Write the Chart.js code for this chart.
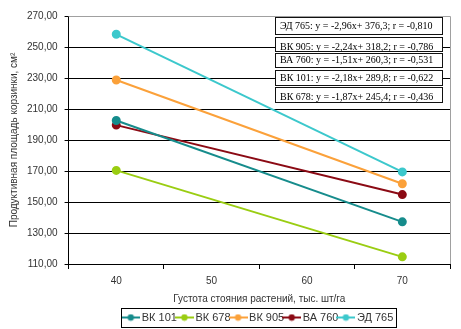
<!DOCTYPE html>
<html lang="ru">
<head>
  <meta charset="UTF-8">
  <title>Продуктивная площадь корзинки</title>
  <script src="https://cdn.jsdelivr.net/npm/chart.js"></script>
  <style>
    body { margin: 0; padding: 0; background: #fff; }
    #wrap { width: 461px; height: 329px; }
  </style>
</head>
<body>
  <div id="wrap"><canvas id="chart"></canvas></div>

  <script>
    // густота стояния, тыс. шт/га (в 50 и 60 точек нет, линия соединяет 40 и 70)
    const categories = ['40', '50', '60', '70'];
    const names = ['ВК 101', 'ВК 678', 'ВК 905', 'ВА 760', 'ЭД 765'];
    const bk101 = [202.6, null, null, 137.2];
    const bk678 = [170.4, null, null, 114.6];
    const bk905 = [228.7, null, null, 161.8];
    const ba760 = [199.6, null, null, 154.8];
    const ed765 = [258.2, null, null, 169.4];
    const colors = ['#168c8c', '#9acd12', '#fba13a', '#8b0a14', '#3cc8cc'];
    const equations = [
      'ЭД 765: y = -2,96x+ 376,3; r = -0,810',
      'ВК 905: y = -2,24x+ 318,2; r = -0,786',
      'ВА 760: y = -1,51x+ 260,3; r = -0,531',
      'ВК 101: y = -2,18x+ 289,8; r = -0,622',
      'ВК 678: y = -1,87x+ 245,4; r = -0,436'
    ];
    const yTicks = { min: 110, max: 270, step: 20 };

    const series = [bk101, bk678, bk905, ba760, ed765];

    // значок легенды: линия с маркером
    function legendIcon(color) {
      const c = document.createElement('canvas');
      c.width = 19; c.height = 8;
      const g = c.getContext('2d');
      g.strokeStyle = color; g.lineWidth = 2;
      g.beginPath(); g.moveTo(0, 4); g.lineTo(19, 4); g.stroke();
      g.fillStyle = color;
      g.beginPath(); g.arc(9.5, 4, 3.2, 0, Math.PI * 2); g.fill();
      return c;
    }

    const datasets = series.map((data, i) => ({
      label: names[i],
      data: data,
      borderColor: colors[i],
      backgroundColor: colors[i],
      borderWidth: 2,
      pointRadius: 3.5,
      pointHoverRadius: 3.5,
      pointStyle: 'circle',
      spanGaps: true,
      tension: 0
    }));

    const extras = {
      id: 'extras',
      afterLayout(chart) {
        // легенда центрируется по области построения
        const lg = chart.legend;
        lg.left = chart.chartArea.left;
        lg.right = chart.chartArea.right;
        lg.width = lg.right - lg.left;
      },
      afterDraw(chart) {
        const ctx = chart.ctx;
        const area = chart.chartArea;
        ctx.save();
        // рамка области построения справа и сверху
        ctx.strokeStyle = '#a0a0a0';
        ctx.lineWidth = 1;
        ctx.beginPath();
        ctx.moveTo(area.left, area.top + 0.5);
        ctx.lineTo(area.right + 0.5, area.top + 0.5);
        ctx.lineTo(area.right + 0.5, area.bottom);
        ctx.stroke();

        // рамка легенды
        const boxes = chart.legend.legendHitBoxes;
        if (boxes.length) {
          const l = boxes[0].left - 4;
          const r = boxes[boxes.length - 1].left + boxes[boxes.length - 1].width + 3;
          const mid = boxes[0].top + boxes[0].height / 2;
          ctx.strokeStyle = '#000';
          ctx.strokeRect(Math.round(l) + 0.5, Math.round(mid - 10) + 0.5, Math.round(r - l), 19);
        }

        // уравнения регрессии (подписи перекрывают друг друга, как в оригинале)
        const rows = [[17, 17, 9], [37, 14, 10], [53, 14, 7.5], [70, 15, 8], [87, 15, 10]];
        ctx.font = '10px "Liberation Serif", serif';
        ctx.textBaseline = 'middle';
        equations.forEach((txt, i) => {
          const [y, h, dy] = rows[i];
          ctx.save();
          ctx.fillStyle = '#fff';
          ctx.fillRect(275, y, 167, h);
          ctx.beginPath();
          ctx.rect(275, y, 167, h);
          ctx.clip();
          ctx.fillStyle = '#000';
          ctx.fillText(txt, 280, y + dy);
          ctx.restore();
          ctx.strokeStyle = '#111';
          ctx.strokeRect(275.5, y + 0.5, 167, h);
        });
        ctx.restore();
      }
    };

    new Chart(document.getElementById('chart'), {
      type: 'line',
      data: { labels: categories, datasets: datasets },
      options: {
        responsive: true,
        maintainAspectRatio: false,
        animation: false,
        layout: { padding: { top: 16, right: 11, left: 8, bottom: -4 } },
        plugins: {
          legend: {
            position: 'bottom',
            labels: {
              usePointStyle: true,
              boxWidth: 19,
              boxHeight: 8,
              padding: 2,
              color: '#333',
              font: { family: 'Arial, "Liberation Sans"', size: 11 },
              generateLabels(chart) {
                return chart.data.datasets.map((ds, i) => ({
                  text: ds.label,
                  pointStyle: legendIcon(ds.borderColor),
                  fillStyle: ds.borderColor,
                  strokeStyle: ds.borderColor,
                  lineWidth: 0,
                  fontColor: '#333',
                  datasetIndex: i
                }));
              }
            }
          },
          tooltip: { enabled: false }
        },
        scales: {
          x: {
            offset: true,
            grid: { offset: true, drawOnChartArea: false, drawTicks: true, tickLength: 5, color: '#000' },
            border: { color: '#000' },
            ticks: { color: '#333', padding: 6, font: { family: 'Arial, "Liberation Sans"', size: 10 } },
            title: {
              display: true,
              text: 'Густота стояния растений, тыс. шт/га',
              color: '#333',
              padding: { top: 0, bottom: 5 },
              font: { family: 'Arial, "Liberation Sans"', size: 10 }
            }
          },
          y: {
            min: yTicks.min,
            max: yTicks.max,
            grid: { color: '#000', lineWidth: 1, tickLength: 4 },
            border: { color: '#000' },
            ticks: {
              stepSize: yTicks.step,
              color: '#333',
              padding: 7,
              font: { family: 'Arial, "Liberation Sans"', size: 10 },
              callback: v => v.toFixed(2).replace('.', ',')
            },
            title: {
              display: true,
              text: 'Продуктивная площадь корзинки, см²',
              color: '#333',
              padding: { top: 0, bottom: 0 },
              font: { family: 'Arial, "Liberation Sans"', size: 10 }
            }
          }
        }
      },
      plugins: [extras]
    });
  </script>
</body>
</html>
